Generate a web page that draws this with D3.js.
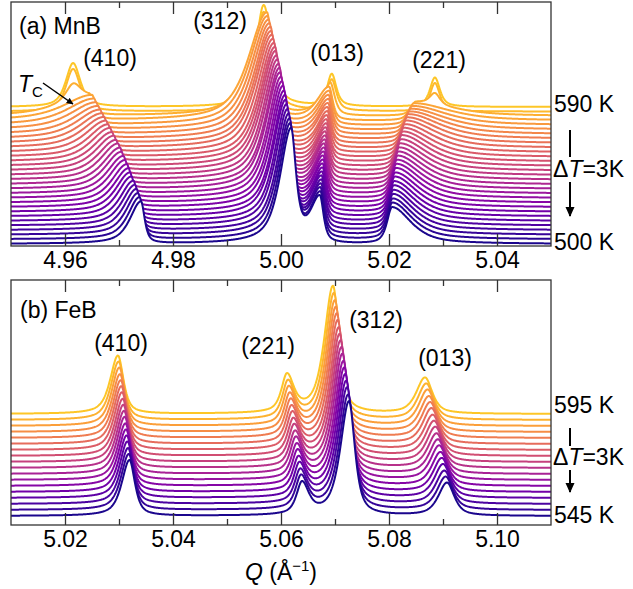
<!DOCTYPE html>
<html><head><meta charset="utf-8">
<script src="https://cdn.jsdelivr.net/npm/d3@7/dist/d3.min.js"></script>
<style>body{margin:0;background:#fff}svg{display:block}text{font-family:"Liberation Sans",Arial,Helvetica,sans-serif;fill:#000}</style>
</head><body><svg id="c" width="633" height="589"></svg>
<script>
// ---------------- DATA ----------------
// Panel (a) MnB: temperatures (K), one curve each
const tempsA = [500,503,506,509,512,515,518,521,524,527,530,533,536,539,542,545,548,551,554,557,560,563,566,569,572,575,578,581,584,587,590];
// ferromagnetic-phase peaks (500..584 K): centre Q, height (in curve offsets), broad-side HWHM
const ferroTempsA = [500,503,506,509,512,515,518,521,524,527,530,533,536,539,542,545,548,551,554,557,560,563,566,569,572,575,578,581,584];
const a410c = [4.97407,4.97380,4.97352,4.97324,4.97296,4.97269,4.97231,4.97204,4.97176,4.97148,4.97111,4.97083,4.97046,4.97019,4.96981,4.96944,4.96907,4.96870,4.96833,4.96796,4.96759,4.96722,4.96685,4.96648,4.96611,4.96574,4.96537,4.96500,4.96450];
const a410h = [9.2,9.1,9.0,8.9,8.8,8.7,8.6,8.5,8.4,8.3,8.2,8.1,8.0,7.9,7.8,7.6,7.5,7.3,7.2,7.0,6.8,6.6,6.4,6.2,6.0,5.8,5.6,5.4,4.2];
const a410w = [0.0024,0.0025,0.0026,0.0027,0.0028,0.0029,0.0030,0.0031,0.0032,0.0033,0.0034,0.0035,0.0036,0.0037,0.0038,0.0039,0.0040,0.0041,0.0042,0.0043,0.0045,0.0047,0.0049,0.0051,0.0053,0.0056,0.0059,0.0062,0.0065];
const a312c = [5.00185,5.00167,5.00157,5.00139,5.00120,5.00102,5.00083,5.00074,5.00056,5.00037,5.00019,5.00000,4.99981,4.99972,4.99954,4.99935,4.99917,4.99898,4.99889,4.99870,4.99852,4.99833,4.99815,4.99806,4.99787,4.99769,4.99750,4.99741,4.99722];
const a312h = [24.5,24.6,24.7,24.8,24.9,25.0,25.0,25.1,25.1,25.2,25.2,25.2,25.2,25.2,25.1,25.1,25.0,25.0,24.9,24.8,24.7,24.6,24.4,24.3,24.1,23.9,23.7,23.5,14.0];
const a312w = [0.0024,0.0024,0.0025,0.0025,0.0026,0.0026,0.0027,0.0027,0.0028,0.0028,0.0029,0.0029,0.0030,0.0030,0.0031,0.0031,0.0032,0.0032,0.0033,0.0033,0.0034,0.0035,0.0035,0.0036,0.0037,0.0038,0.0039,0.0040,0.0042];
const a013c = [5.0072,5.0073,5.0073,5.0074,5.0075,5.0075,5.0076,5.0077,5.0077,5.0078,5.0078,5.0079,5.0080,5.0080,5.0081,5.0082,5.0082,5.0083,5.0084,5.0084,5.0085,5.0086,5.0086,5.0087,5.0088,5.0088,5.0089,5.0089,5.0090];
const a013h = [10.0,9.9,9.8,9.7,9.6,9.5,9.4,9.3,9.2,9.1,9.0,8.9,8.8,8.7,8.6,8.5,8.4,8.3,8.2,8.1,8.0,7.9,7.8,7.7,7.6,7.5,7.4,7.3,4.5];
const a013w = [0.0021,0.0021,0.0021,0.0021,0.0021,0.0021,0.0021,0.0021,0.0021,0.0021,0.0021,0.0021,0.0021,0.0021,0.0021,0.0021,0.0021,0.0021,0.0021,0.0021,0.0022,0.0022,0.0023,0.0023,0.0024,0.0024,0.0025,0.0026,0.0027];
const a221c = [5.02056,5.02061,5.02067,5.02074,5.02081,5.02089,5.02096,5.02106,5.02115,5.02126,5.02137,5.02148,5.02161,5.02174,5.02189,5.02204,5.02220,5.02237,5.02256,5.02274,5.02294,5.02315,5.02337,5.02359,5.02383,5.02407,5.02433,5.02463,5.02500];
const a221h = [8.0,8.0,7.9,7.9,7.8,7.8,7.7,7.7,7.6,7.6,7.5,7.4,7.3,7.2,7.1,7.0,6.9,6.8,6.6,6.4,6.2,6.0,5.7,5.4,5.0,4.6,4.2,3.8,3.0];
const a221w = [0.0042,0.0043,0.0044,0.0045,0.0046,0.0047,0.0048,0.0049,0.0050,0.0051,0.0052,0.0053,0.0054,0.0055,0.0056,0.0057,0.0058,0.0059,0.0060,0.0062,0.0064,0.0066,0.0068,0.0070,0.0072,0.0074,0.0076,0.0078,0.0080];
// sharp-side HWHM for (410),(312),(013),(221)
const sharpA = [0.0008,0.0011,0.0008,0.0011];
// paramagnetic peaks (584..590 K)
const paraTempsA = [584,587,590];
const paraAc = [4.9615,4.9968,5.0094,5.0285];
const paraAw = [0.0016,0.0017,0.0010,0.0011];
const para410h = [3.5,9.3,9.6];
const para312h = [8.0,21.8,22.3];
const para013h = [3.0,6.8,7.0];
const para221h = [2.5,6.2,6.4];

// Panel (b) FeB
const tempsB = [545,548,551,554,557,560,563,566,569,572,575,578,581,584,587,590,593,596];
const b410c = [5.03194,5.03181,5.03169,5.03157,5.03144,5.03131,5.03119,5.03106,5.03094,5.03081,5.03069,5.03056,5.03043,5.03031,5.03019,5.03006,5.02993,5.02981];
const b410h = [9.3,9.3,9.3,9.4,9.4,9.4,9.4,9.5,9.5,9.5,9.5,9.6,9.6,9.6,9.6,9.7,9.7,9.7];
const b221c = [5.06389,5.06372,5.06356,5.06341,5.06324,5.06307,5.06291,5.06274,5.06259,5.06243,5.06226,5.06209,5.06193,5.06178,5.06161,5.06144,5.06128,5.06111];
const b221h = [5.2,5.3,5.3,5.4,5.4,5.5,5.5,5.6,5.6,5.7,5.7,5.8,5.8,5.9,5.9,6.0,6.0,6.1];
const b312c = [5.07259,5.07243,5.07224,5.07207,5.07189,5.07172,5.07156,5.07137,5.07120,5.07102,5.07085,5.07069,5.07050,5.07033,5.07015,5.06998,5.06980,5.06963];
const b312h = [19.0,19.1,19.3,19.4,19.5,19.6,19.7,19.9,20.0,20.1,20.2,20.3,20.5,20.6,20.7,20.8,21.0,21.2];
const b013c = [5.09074,5.09050,5.09026,5.09002,5.08978,5.08954,5.08930,5.08906,5.08881,5.08859,5.08835,5.08811,5.08787,5.08763,5.08739,5.08715,5.08691,5.08667];
const b013h = [5.5,5.5,5.5,5.6,5.6,5.6,5.7,5.7,5.7,5.8,5.8,5.8,5.9,5.9,5.9,6.0,6.0,6.0];
// HWHM left/right for (410),(221),(312),(013)
const bWL = [0.0017,0.0012,0.0019,0.0019];
const bWR = [0.0012,0.0015,0.0013,0.0016];

// axis ticks
const majorA = [4.96,4.98,5.00,5.02,5.04], minorA = [4.97,4.99,5.01,5.03];
const majorB = [5.02,5.04,5.06,5.08,5.10], minorB = [5.03,5.05,5.07,5.09];
const domainA = [4.95,5.05], domainB = [5.01,5.11];

// ---------------- DRAW ----------------
const ETA = 0.7;
function pv(q,c,h,wl,wr){ if(!h) return 0; const w = q<c?wl:wr; const u=(q-c)/w; const u2=u*u; return h*(ETA/(1+u2)+(1-ETA)*Math.exp(-Math.LN2*u2)); }

function intensityA(i,q){
  let s=0;
  if(i<ferroTempsA.length){
    s+=pv(q,a410c[i],a410h[i],a410w[i],sharpA[0]);
    s+=pv(q,a312c[i],a312h[i],a312w[i],sharpA[1]);
    s+=pv(q,a013c[i],a013h[i],a013w[i],sharpA[2]);
    s+=pv(q,a221c[i],a221h[i],sharpA[3],a221w[i]);
  }
  const j=paraTempsA.indexOf(tempsA[i]);
  if(j>=0){
    const hs=[para410h[j],para312h[j],para013h[j],para221h[j]];
    for(let k=0;k<4;k++) s+=pv(q,paraAc[k],hs[k],paraAw[k],paraAw[k]);
  }
  return s;
}
function intensityB(i,q){
  return pv(q,b410c[i],b410h[i],bWL[0],bWR[0])+pv(q,b221c[i],b221h[i],bWL[1],bWR[1])
        +pv(q,b312c[i],b312h[i],bWL[2],bWR[2])+pv(q,b013c[i],b013h[i],bWL[3],bWR[3]);
}

const svg=d3.select('#c');
const X0=11,X1=551;
const defs=svg.append('defs');
defs.append('marker').attr('id','ah').attr('viewBox','0 0 10 10').attr('refX',9).attr('refY',5)
  .attr('markerWidth',10).attr('markerHeight',10).attr('markerUnits','userSpaceOnUse').attr('orient','auto')
  .append('path').attr('d','M0,0.5L10,5L0,9.5Z').attr('fill','#000');
defs.append('marker').attr('id','ah2').attr('viewBox','0 0 10 10').attr('refX',9).attr('refY',5)
  .attr('markerWidth',7).attr('markerHeight',7).attr('markerUnits','userSpaceOnUse').attr('orient','auto')
  .append('path').attr('d','M0,0.5L10,5L0,9.5Z').attr('fill','#000');

function panel(cfg){
  const x=d3.scaleLinear().domain(cfg.domain).range([X0,X1]);
  const y=d3.scaleLinear().domain(cfg.ydom).range([cfg.bottom,cfg.top]);
  const cid='clip'+cfg.id;
  defs.append('clipPath').attr('id',cid).append('rect').attr('x',X0).attr('y',cfg.top).attr('width',X1-X0).attr('height',cfg.bottom-cfg.top);
  const g=svg.append('g').attr('clip-path',`url(#${cid})`);
  const n=cfg.temps.length;
  const qs=d3.range(0,1001).map(k=>cfg.domain[0]+k*(cfg.domain[1]-cfg.domain[0])/1000);
  const color=i=>d3.interpolatePlasma(0.02+0.86*i/(n-1));
  const line=d3.line().x(d=>x(d[0])).y(d=>y(d[1]));
  const area=d3.area().x(d=>x(d[0])).y0(cfg.bottom+4).y1(d=>y(d[1]));
  for(let i=n-1;i>=0;i--){
    const pts=qs.map(q=>[q,i+cfg.f(i,q)]);
    g.append('path').attr('d',area(pts)).attr('fill','#fff');
    g.append('path').attr('d',line(pts)).attr('fill','none').attr('stroke',color(i)).attr('stroke-width',2).attr('stroke-linejoin','round');
  }
  const fmt=d3.format('.2f');
  const ax=svg.append('g').attr('transform',`translate(0,${cfg.bottom})`)
    .call(d3.axisBottom(x).tickValues(cfg.major).tickSize(-12).tickPadding(6).tickFormat(fmt));
  ax.select('.domain').remove();
  ax.selectAll('text').attr('font-size',23).attr('font-family','"Liberation Sans",Arial,sans-serif').attr('fill','#000');
  const axm=svg.append('g').attr('transform',`translate(0,${cfg.bottom})`)
    .call(d3.axisBottom(x).tickValues(cfg.minor).tickSize(-6).tickFormat(''));
  axm.select('.domain').remove();
  const at=svg.append('g').attr('transform',`translate(0,${cfg.top})`)
    .call(d3.axisTop(x).tickValues(cfg.major).tickSize(-12).tickFormat(''));
  at.select('.domain').remove();
  const atm=svg.append('g').attr('transform',`translate(0,${cfg.top})`)
    .call(d3.axisTop(x).tickValues(cfg.minor).tickSize(-6).tickFormat(''));
  atm.select('.domain').remove();
  svg.selectAll('.tick line').attr('stroke','#333').attr('stroke-width',1.3);
  svg.append('rect').attr('x',X0).attr('y',cfg.top).attr('width',X1-X0).attr('height',cfg.bottom-cfg.top)
    .attr('fill','none').attr('stroke','#333').attr('stroke-width',1.3);
  return {x,y};
}

panel({id:'A',domain:domainA,ydom:[-0.44,53.0],top:2,bottom:246,temps:tempsA,f:intensityA,major:majorA,minor:minorA});
panel({id:'B',domain:domainB,ydom:[-1.5,39.33],top:280,bottom:525,temps:tempsB,f:intensityB,major:majorB,minor:minorB});

const FS=23;
function txt(x,y,s,anchor){ return svg.append('text').attr('x',x).attr('y',y).attr('font-size',FS).attr('text-anchor',anchor||'start').text(s); }
txt(19,34,'(a) MnB');
txt(20,318,'(b) FeB');
txt(110,66,'(410)','middle'); txt(220,29,'(312)','middle'); txt(337,61,'(013)','middle'); txt(439,68,'(221)','middle');
txt(121,351,'(410)','middle'); txt(268,354,'(221)','middle'); txt(376,328,'(312)','middle'); txt(445,366,'(013)','middle');
txt(554,112,'590 K'); txt(554,250,'500 K');
txt(554,413,'595 K'); txt(554,523,'545 K');
function dT(yText,yl0,yl1,ya0,ya1){
  const t=svg.append('text').attr('x',553).attr('y',yText).attr('font-size',FS);
  t.append('tspan').text('Δ');
  t.append('tspan').attr('font-style','italic').text('T');
  t.append('tspan').text('=3K');
  svg.append('line').attr('x1',570).attr('x2',570).attr('y1',yl0).attr('y2',yl1).attr('stroke','#000').attr('stroke-width',2);
  svg.append('line').attr('x1',570).attr('x2',570).attr('y1',ya0).attr('y2',ya1).attr('stroke','#000').attr('stroke-width',2).attr('marker-end','url(#ah)');
}
dT(177,130,157,182,216);
dT(465,428,446,470,492);
const tc=svg.append('text').attr('x',18).attr('y',92).attr('font-size',FS);
tc.append('tspan').attr('font-style','italic').text('T');
tc.append('tspan').attr('font-size',15).attr('dy',5).text('C');
svg.append('line').attr('x1',43).attr('y1',83).attr('x2',73).attr('y2',104).attr('stroke','#000').attr('stroke-width',1.5).attr('marker-end','url(#ah2)');
const xt=svg.append('text').attr('x',281).attr('y',580).attr('font-size',FS).attr('text-anchor','middle');
xt.append('tspan').attr('font-style','italic').text('Q');
xt.append('tspan').text(' (Å');
xt.append('tspan').attr('font-size',15).attr('dy',-9).text('−1');
xt.append('tspan').attr('dy',9).text(')');
</script></body></html>
